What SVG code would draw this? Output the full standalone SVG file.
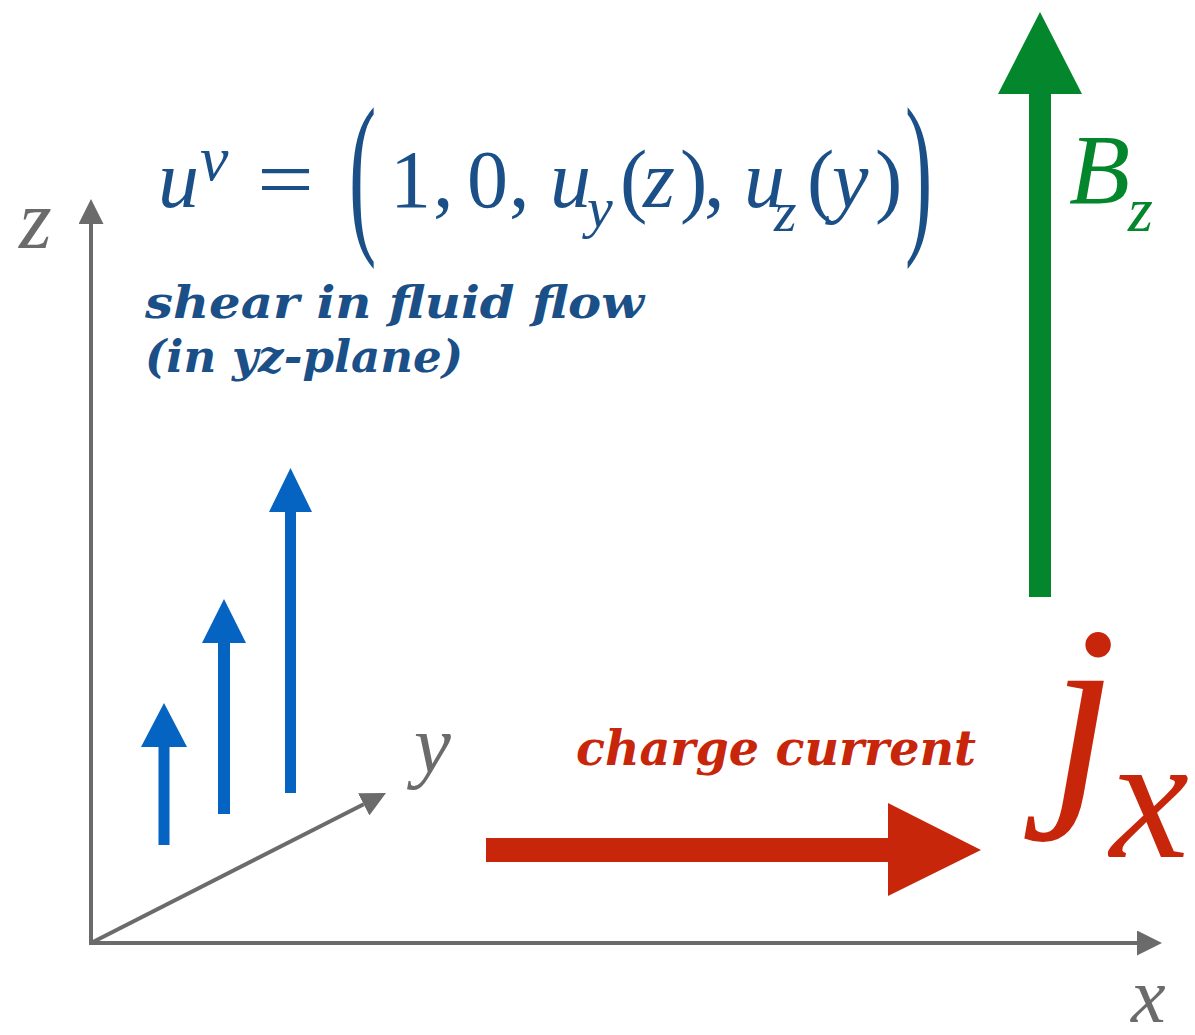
<svg xmlns="http://www.w3.org/2000/svg" width="1195" height="1035" viewBox="0 0 1195 1035">
  <style>
    .axis { stroke: #6b6b6b; stroke-width: 4; fill: none; }
    .axlbl { font-family: "Liberation Serif", "Times New Roman", serif; font-style: italic; fill: #6b6b6b; }
    .math { font-family: "Liberation Serif", "Times New Roman", serif; fill: #1b4f87; }
    .it { font-style: italic; }
    .note { font-family: "DejaVu Serif", serif; font-weight: bold; font-style: italic; }
    .blue { fill: #0563c1; }
    .green { fill: #04872c; }
    .red { fill: #c7260b; }
    .sym { font-family: "Liberation Serif", "Times New Roman", serif; font-style: italic; }
  </style>
  <defs>
    <marker id="axhead" markerUnits="userSpaceOnUse" markerWidth="26" markerHeight="25" refX="0" refY="12.5" orient="auto">
      <path d="M0,0 L25,12.5 L0,25 z" fill="#6b6b6b"/>
    </marker>
  </defs>

  <g id="connectors">
    <line id="z-axis" class="axis" x1="91" y1="943" x2="91" y2="224" marker-end="url(#axhead)"/>
    <line id="x-axis" class="axis" x1="89" y1="943" x2="1137" y2="943" marker-end="url(#axhead)"/>
    <line id="y-axis" class="axis" x1="91" y1="943" x2="363.7" y2="804.3" marker-end="url(#axhead)"/>
  </g>

  <g id="axis-labels">
    <text class="axlbl" x="19" y="248" font-size="84">z</text>
    <text class="axlbl" x="414" y="772" font-size="83">y</text>
    <text class="axlbl" x="1131" y="1022" font-size="78">x</text>
  </g>

  <g id="equation" class="math">
    <text class="it" x="158" y="207" font-size="82">u</text>
    <text class="it" x="200" y="180" font-size="64">ν</text>
    <text x="257" y="207" font-size="82" textLength="57" lengthAdjust="spacingAndGlyphs">=</text>
    <text transform="translate(349,231) scale(1,2.16)" font-size="82">(</text>
    <text x="390" y="207" font-size="82">1</text>
    <text x="433" y="207" font-size="82">,</text>
    <text x="467" y="207" font-size="82">0</text>
    <text x="509" y="207" font-size="82">,</text>
    <text class="it" x="550" y="207" font-size="82">u</text>
    <text class="it" x="587" y="227" font-size="58">y</text>
    <text x="620" y="207" font-size="82">(</text>
    <text class="it" x="643" y="207" font-size="82">z</text>
    <text x="680" y="207" font-size="82">)</text>
    <text x="704" y="207" font-size="82">,</text>
    <text class="it" x="744" y="207" font-size="82">u</text>
    <text class="it" x="774" y="231" font-size="58">z</text>
    <text x="807" y="207" font-size="82">(</text>
    <text class="it" x="832" y="207" font-size="82">y</text>
    <text x="875" y="207" font-size="82">)</text>
    <text transform="translate(905,231) scale(1,2.16)" font-size="82">)</text>
  </g>

  <g id="shear-label" fill="#1b4f87">
    <text class="note" x="145" y="318" font-size="44" textLength="499" lengthAdjust="spacingAndGlyphs">shear in fluid flow</text>
    <text class="note" x="145" y="372" font-size="44" textLength="318" lengthAdjust="spacingAndGlyphs">(in yz-plane)</text>
  </g>

  <g id="flow-arrows">
    <polygon class="blue" points="158.5,845 169.5,845 169.5,747 187,747 164,703 141,747 158.5,747"/>
    <polygon class="blue" points="218,814 230,814 230,643 246,643 224,599 202,643 218,643"/>
    <polygon class="blue" points="285,793 296,793 296,512 312,512 290.5,468 269,512 285,512"/>
  </g>

  <g id="magnetic-field">
    <polygon class="green" points="1029,597 1051,597 1051,94 1082,94 1040,12 998,94 1029,94"/>
    <text class="green sym" x="1069" y="203" font-size="100">B</text>
    <text class="green sym" x="1128" y="231" font-size="64">z</text>
  </g>

  <g id="charge-current">
    <polygon class="red" points="486,838 888,838 888,803 981,850 888,896 888,862 486,862"/>
    <text class="note red" x="576" y="765" font-size="48" textLength="400" lengthAdjust="spacingAndGlyphs">charge current</text>
    <text class="red sym" x="1050" y="791" font-size="240">j</text>
    <text class="red sym" x="1110" y="857" font-size="178">x</text>
  </g>
</svg>
